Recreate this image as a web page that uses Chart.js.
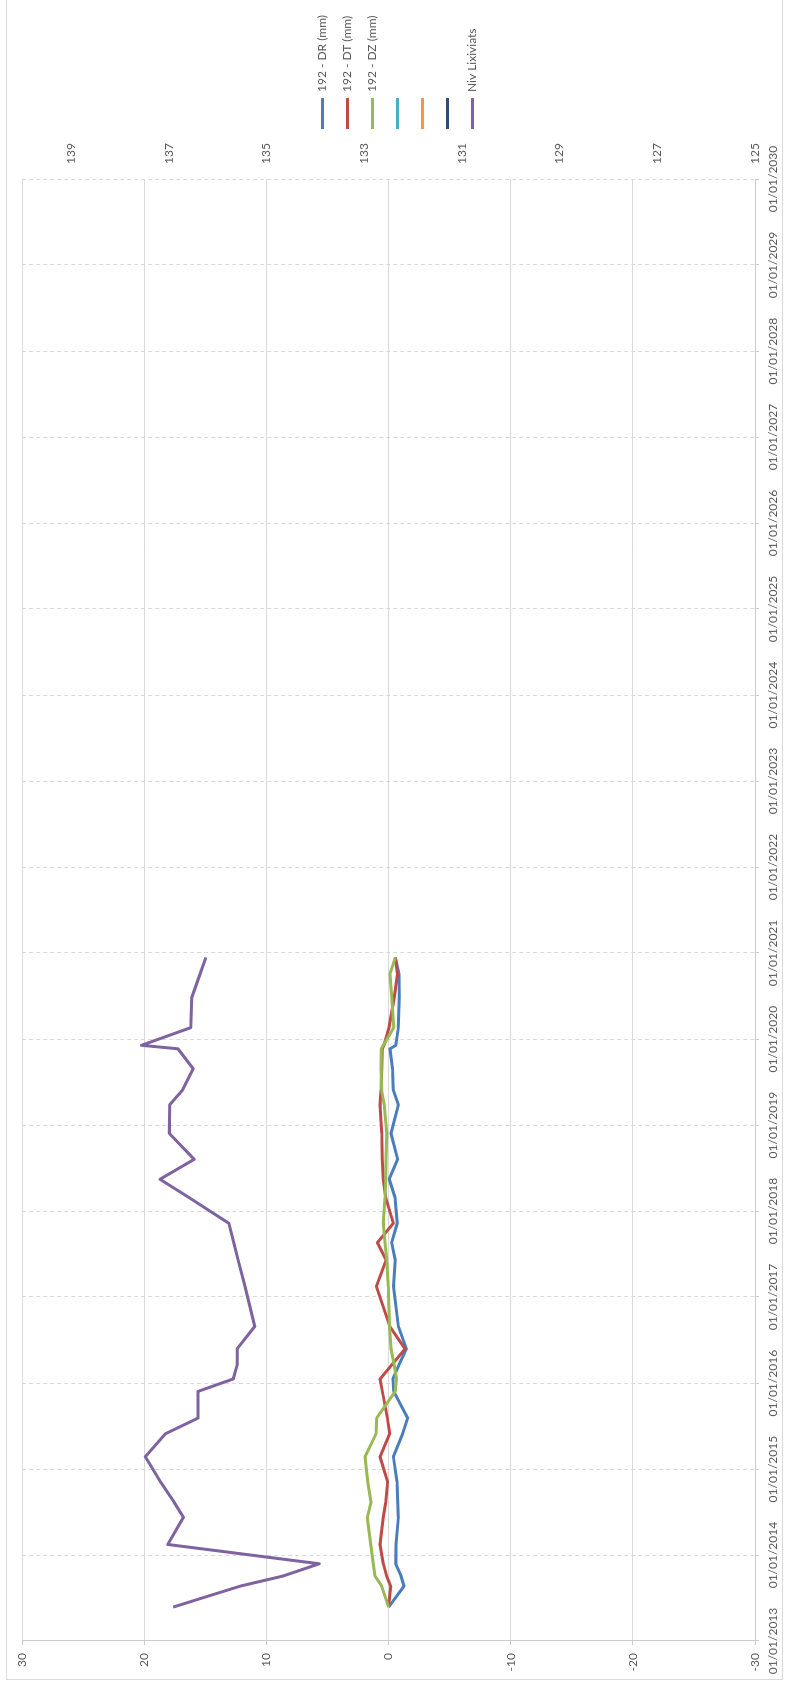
<!DOCTYPE html>
<html lang="ca">
<head>
<meta charset="UTF-8">
<title>192 - Desplaçaments i nivell de lixiviats</title>
<style>
    html, body { margin: 0; padding: 0; background: #fff; overflow: hidden; }
    /* the chart is laid out landscape and turned a quarter turn to stand upright */
    #frame {
        position: absolute; left: 0; top: 0;
        width: 1686px; height: 785px;
        transform-origin: 0 0;
        transform: translateY(1686px) rotate(-90deg);
        overflow: hidden;
    }
    #border {
        position: absolute; left: 6px; top: 6px;
        width: 1700px; height: 777px;
        border: 1px solid #d9d9d9; box-sizing: border-box;
    }
    #chart { position: absolute; left: 0; top: 0; }
</style>
<script src="https://cdn.jsdelivr.net/npm/chart.js"></script>
</head>
<body>
<div id="frame">
    <div id="border"></div>
    <canvas id="chart" width="1686" height="785"></canvas>
</div>
<script>
    // survey dates
    const dates = [
        '2013-05-25', '2013-08-22', '2013-10-04', '2013-11-25', '2014-02-15', '2014-06-10',
        '2014-08-13', '2014-11-08', '2015-02-23', '2015-05-31', '2015-08-06', '2015-11-27',
        '2016-01-19', '2016-03-18', '2016-05-26', '2016-08-29', '2017-02-15', '2017-06-07',
        '2017-08-20', '2017-11-10', '2018-02-28', '2018-05-16', '2018-08-09', '2018-11-27',
        '2019-03-28', '2019-05-29', '2019-08-28', '2019-11-21', '2019-12-06', '2020-02-19',
        '2020-06-26', '2020-10-03', '2020-12-13'
    ];

    // displacements of point 192 (mm)
    const dr = [
        0, -1.26, -1.02, -0.58, -0.61, -0.80, -0.74, -0.69, -0.39, -1.15, -1.56, -0.42,
        -0.35, -0.85, -1.45, -0.80, -0.41, -0.55, -0.25, -0.71, -0.52, -0.05, -0.74, -0.20,
        -0.80, -0.39, -0.31, -0.11, -0.58, -0.80, -0.88, -0.85, -0.55
    ];
    const dt = [
        0, -0.17, 0.16, 0.43, 0.70, 0.43, 0.24, 0.08, 0.70, -0.09, 0.10, 0.51,
        0.70, -0.25, -1.35, -0.10, 1.00, 0.21, 0.92, -0.39, 0.24, 0.43, 0.51, 0.57,
        0.70, 0.62, 0.57, 0.51, 0.38, -0.03, -0.47, -0.72, -0.55
    ];
    const dz = [
        0, 0.57, 1.11, 1.25, 1.47, 1.74, 1.44, 1.71, 1.93, 1.03, 0.98, -0.55,
        -0.64, -0.47, -0.20, -0.08, 0.02, 0.16, 0.29, 0.43, 0.29, 0.24, 0.21, 0.16,
        0.35, 0.57, 0.62, 0.61, 0.43, -0.42, -0.25, -0.11, -0.55
    ];

    // leachate level (secondary axis)
    const nivLix = [
        136.91, 135.54, 134.66, 133.92, 137.02, 136.70, 136.89, 137.17, 137.48, 137.07, 136.40, 136.40,
        135.68, 135.60, 135.60, 135.24, 135.44, 135.58, 135.67, 135.77, 136.59, 137.18, 136.48, 136.99,
        136.98, 136.72, 136.50, 136.81, 137.56, 136.55, 136.53, 136.36, 136.24
    ];

    const yearTicks = [2013, 2014, 2015, 2016, 2017, 2018, 2019, 2020, 2021,
                       2022, 2023, 2024, 2025, 2026, 2027, 2028, 2029, 2030];
    const mmTicks = [-30, -20, -10, 0, 10, 20, 30];
    const nivTicks = [125, 127, 129, 131, 133, 135, 137, 139];

    const textColor = '#595959';
    const gridColor = '#d9d9d9';
    const axisColor = '#cccccc';

    Chart.defaults.font.family = 'Lato';
    Chart.defaults.font.size = 12;
    Chart.defaults.color = textColor;

    const toPoints = vals => vals.map((v, i) => ({ x: Date.parse(dates[i]), y: v }));
    const pad2 = n => String(n).padStart(2, '0');
    const fmtDate = ms => {
        const d = new Date(ms);
        return pad2(d.getUTCDate()) + '/' + pad2(d.getUTCMonth() + 1) + '/' + d.getUTCFullYear();
    };

    function series(label, values, color, axis, order) {
        return {
            label: label,
            data: values ? toPoints(values) : [],
            borderColor: color,
            backgroundColor: color,
            borderWidth: 3,
            pointRadius: 0,
            tension: 0,
            fill: false,
            borderJoinStyle: 'round',
            yAxisID: axis,
            order: order
        };
    }

    // legend sits centred on the whole frame, not just below the top padding
    const legendShift = {
        id: 'legendShift',
        afterUpdate(chart) {
            chart.legend.top -= 6;
            chart.legend.bottom -= 6;
        }
    };

    const ctx = document.getElementById('chart').getContext('2d');
    new Chart(ctx, {
        type: 'line',
        data: {
            datasets: [
                series('192 - DR (mm)', dr, '#4a7ebb', 'y', 3),
                series('192 - DT (mm)', dt, '#be4b48', 'y', 2),
                series('192 - DZ (mm)', dz, '#98b954', 'y', 1),
                series('', null, '#4bacc6', 'y', 4),
                series('', null, '#f79646', 'y', 5),
                series('', null, '#2c4d75', 'y', 6),
                series('Niv Lixiviats', nivLix, '#7f63a1', 'y2', 0)
            ]
        },
        plugins: [legendShift],
        options: {
            responsive: false,
            animation: false,
            devicePixelRatio: 1,
            layout: { padding: { left: 0, right: 5, top: 22, bottom: 0 } },
            plugins: {
                tooltip: { enabled: false },
                legend: {
                    position: 'right',
                    labels: {
                        usePointStyle: true,
                        pointStyle: 'line',
                        pointStyleWidth: 31,
                        padding: 13,
                        color: textColor,
                        sort: (a, b) => a.datasetIndex - b.datasetIndex
                    }
                }
            },
            scales: {
                x: {
                    type: 'linear',
                    position: 'bottom',
                    min: Date.UTC(2013, 0, 1),
                    max: Date.UTC(2030, 0, 1),
                    afterBuildTicks: s => { s.ticks = yearTicks.map(y => ({ value: Date.UTC(y, 0, 1) })); },
                    afterFit: s => { s.height = 30; },
                    ticks: { callback: v => fmtDate(v), autoSkip: false, maxRotation: 0, padding: 7 },
                    grid: { color: gridColor, tickLength: 4, tickColor: axisColor, tickBorderDash: [] },
                    border: { color: axisColor, dash: [4, 3] }
                },
                y: {
                    position: 'left',
                    min: -30,
                    max: 30,
                    afterBuildTicks: s => { s.ticks = mmTicks.map(v => ({ value: v })); },
                    afterFit: s => { s.width = 45; },
                    ticks: { padding: 8 },
                    grid: { color: gridColor, tickLength: 4, tickColor: axisColor },
                    border: { color: axisColor }
                },
                y2: {
                    position: 'right',
                    min: 125,
                    max: 140,
                    afterBuildTicks: s => { s.ticks = nivTicks.map(v => ({ value: v })); },
                    afterFit: s => { s.width = 37; },
                    ticks: { padding: 15 },
                    grid: { drawOnChartArea: false, drawTicks: false },
                    border: { display: false }
                }
            }
        }
    });
</script>
</body>
</html>
